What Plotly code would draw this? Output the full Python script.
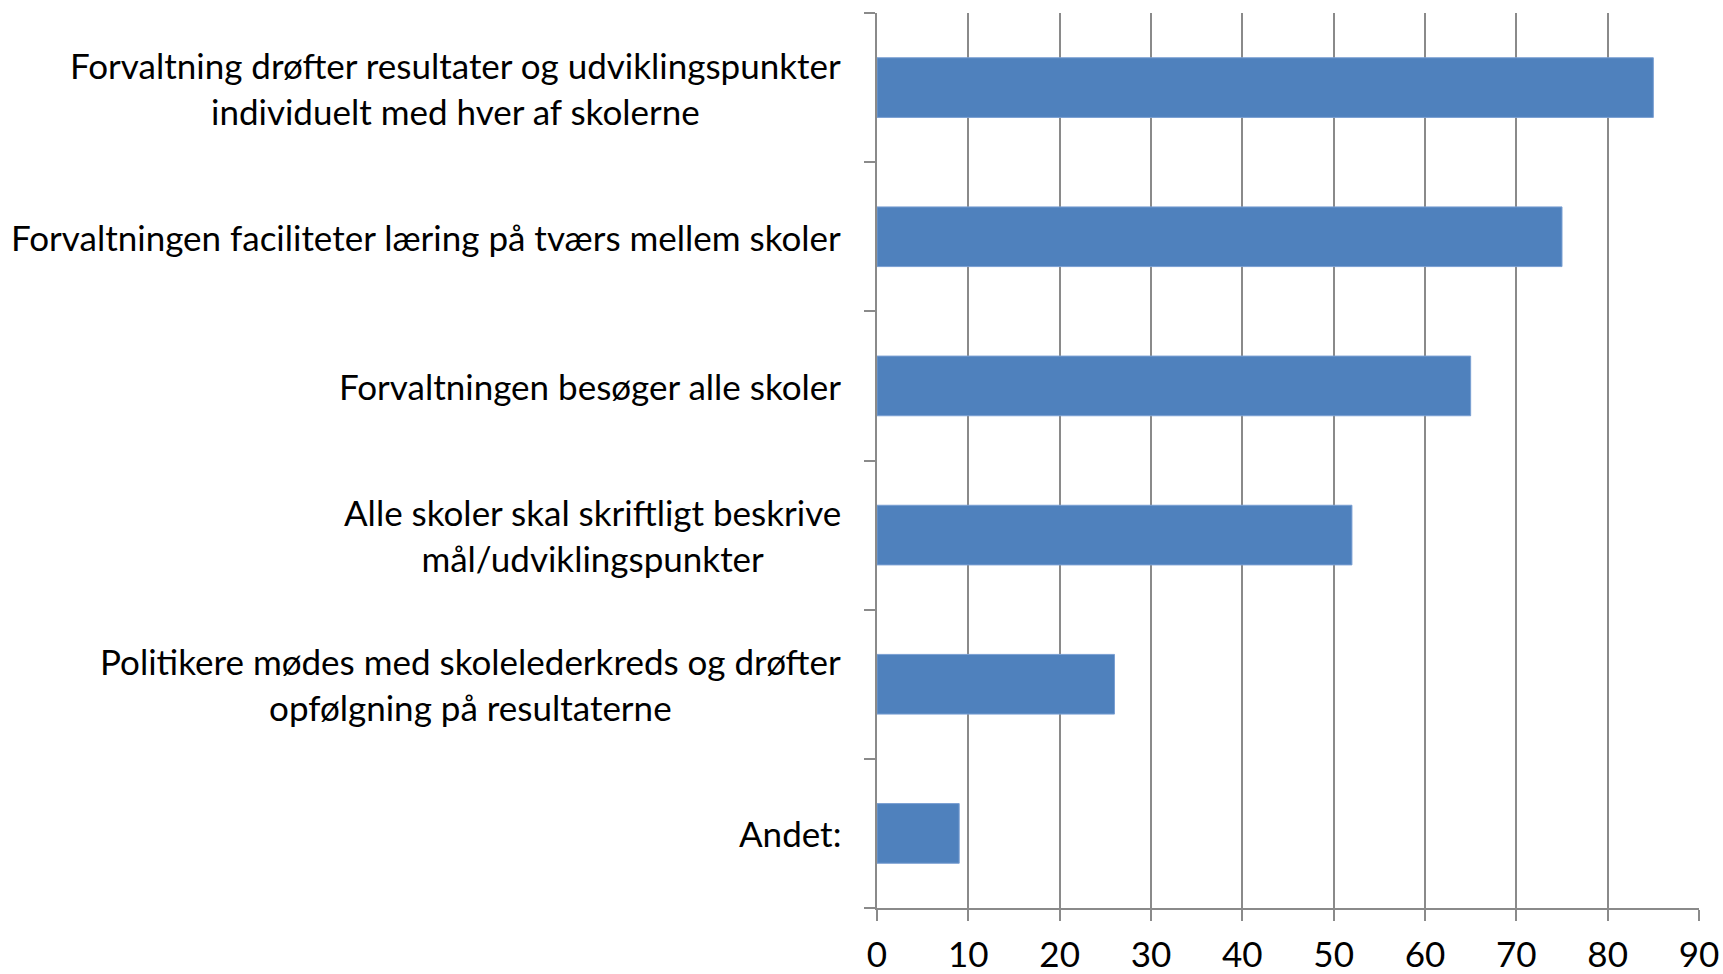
import plotly.graph_objects as go

categories = [
    "Forvaltning drøfter resultater og udviklingspunkter<br>individuelt med hver af skolerne",
    "Forvaltningen faciliteter læring på tværs mellem skoler",
    "Forvaltningen besøger alle skoler",
    "Alle skoler skal skriftligt beskrive<br>mål/udviklingspunkter",
    "Politikere mødes med skolelederkreds og drøfter<br>opfølgning på resultaterne",
    "Andet:",
]
values = [85, 75, 65, 52, 26, 9]
x_ticks = [0, 10, 20, 30, 40, 50, 60, 70, 80, 90]

FONT = "Lato"
GRID = "#8a8a8a"
FS = 35

fig = go.Figure()
fig.add_trace(go.Bar(
    x=values, y=categories, orientation="h",
    marker=dict(color="#4F81BD", line=dict(color="#7a9fd2", width=1)),
    hoverinfo="x+y",
))

for c in categories:
    fig.add_annotation(
        x=0, xref="paper", xanchor="right", xshift=-34,
        y=c, yref="y", yanchor="middle",
        text=c, showarrow=False, align="center",
        font=dict(family=FONT, size=FS, color="black"),
    )

fig.update_layout(
    width=1723, height=974,
    margin=dict(l=877, r=24, t=13, b=66, autoexpand=False),
    plot_bgcolor="white", paper_bgcolor="white",
    bargap=0.6, showlegend=False,
    font=dict(family=FONT, size=FS, color="black"),
)
fig.update_xaxes(
    range=[0, 90], tickvals=x_ticks, ticks="outside", ticklen=11,
    tickcolor=GRID, tickwidth=1.5,
    showline=True, linecolor=GRID, linewidth=1.5,
    showgrid=True, gridcolor=GRID, gridwidth=1.5,
    zeroline=False, tickfont=dict(family=FONT, size=FS, color="black"),
    ticklabelstandoff=4, automargin=False,
)
fig.update_yaxes(
    type="category", categoryorder="array", categoryarray=categories[::-1],
    tickson="boundaries", ticks="outside", ticklen=11,
    tickcolor=GRID, tickwidth=1.5, showticklabels=False,
    showline=True, linecolor=GRID, linewidth=1.5,
    showgrid=False, zeroline=False, automargin=False,
)

fig.write_html(
    "out.html",
    config={"displayModeBar": False},
    post_script="document.body.style.margin='0';document.body.style.overflow='hidden';",
)
